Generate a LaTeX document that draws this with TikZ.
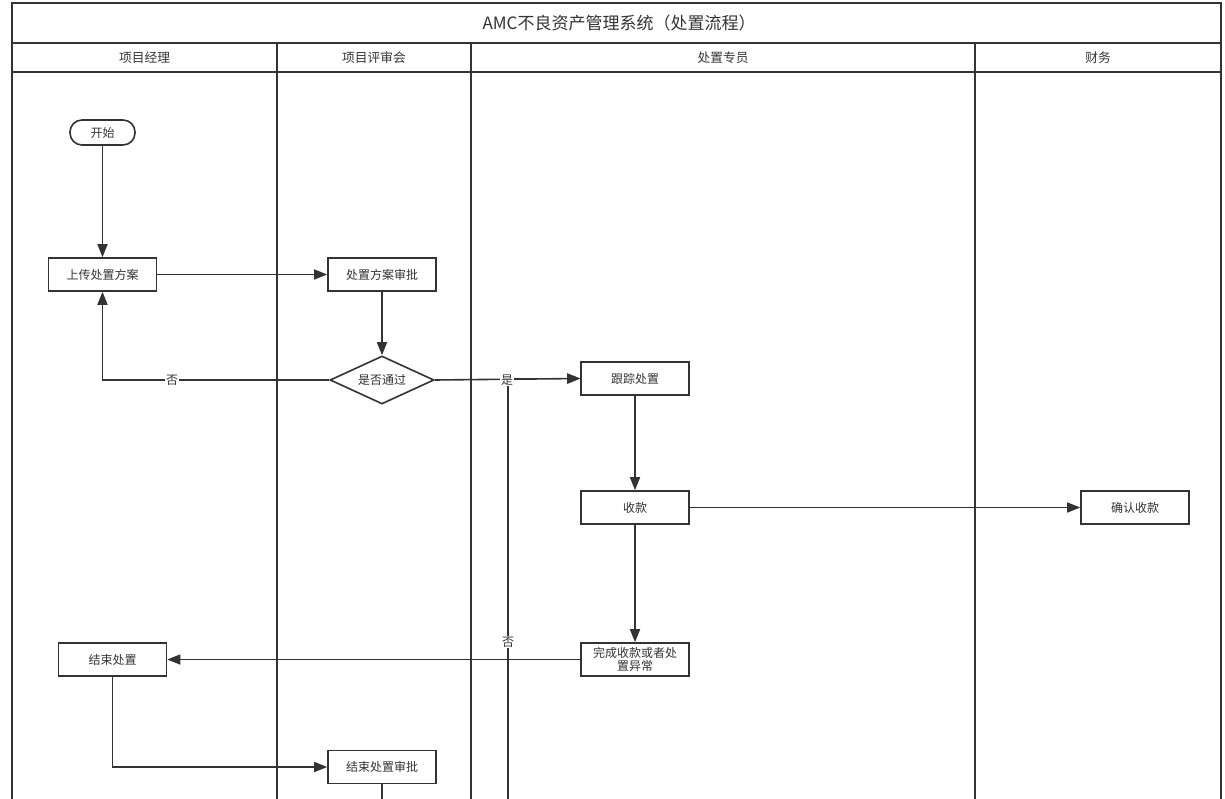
\documentclass[tikz,border=0pt]{standalone}
\usepackage{fontspec}
\setmainfont{Noto Sans CJK SC}
\usetikzlibrary{arrows.meta,shapes.geometric}
\definecolor{ink}{HTML}{333333}
\tikzset{
  pool/.style={draw=ink,line width=1.8pt},
  box/.style={draw=ink,line width=1.6pt,fill=white,minimum width=108pt,minimum height=33pt,inner sep=1pt,font=\fontsize{12}{13.5}\selectfont,text=ink},
  startbox/.style={draw=ink,line width=1.6pt,fill=white,rounded corners=12pt,minimum width=65pt,minimum height=25pt,inner sep=1pt,font=\fontsize{12}{13.5}\selectfont,text=ink},
  decide/.style={draw=ink,line width=1.6pt,fill=white,diamond,aspect=2.2,minimum width=104pt,minimum height=48pt,inner sep=1pt,font=\fontsize{12}{13.5}\selectfont,text=ink},
  flow/.style={draw=ink,line width=1.6pt,-{Triangle[length=13pt,width=10pt]}},
  plain/.style={draw=ink,line width=1.6pt},
  lbl/.style={fill=white,inner sep=1pt,font=\fontsize{12}{13.5}\selectfont,text=ink},
  head/.style={font=\fontsize{12.75}{14}\selectfont,text=ink},
}
\begin{document}
\begin{tikzpicture}[x=1pt,y=-1pt]
\useasboundingbox (0,0) rectangle (1225,799);
% pool
\draw[pool] (12,799) -- (12,3) -- (1221,3) -- (1221,799);
\draw[pool] (12,43) -- (1221,43);
\draw[pool] (12,72) -- (1221,72);
\draw[pool] (277,43) -- (277,799);
\draw[pool] (471,43) -- (471,799);
\draw[pool] (975,43) -- (975,799);
\node[font=\fontsize{17}{19}\selectfont,text=ink] (title) at (619,23) {AMC不良资产管理系统（处置流程）};
\node[head] (h1) at (144.5,58) {项目经理};
\node[head] (h2) at (374,58) {项目评审会};
\node[head] (h3) at (723,58) {处置专员};
\node[head] (h4) at (1098,58) {财务};
% nodes
\node[startbox] (start) at (102.5,132.5) {开始};
\node[box] (upload) at (102.5,274.5) {上传处置方案};
\node[box] (approve) at (382,274.5) {处置方案审批};
\node[decide] (pass) at (382,380) {是否通过};
\node[box] (track) at (635,378.5) {跟踪处置};
\node[box] (collect) at (635,507.5) {收款};
\node[box] (confirm) at (1135,507.5) {确认收款};
\node[box,align=center] (done) at (635,659.5) {完成收款或者处\\置异常};
\node[box] (endd) at (112.5,659.5) {结束处置};
\node[box] (endapp) at (382,767) {结束处置审批};
\coordinate (nobot) at (508,799);
\coordinate (endbot) at (382,799);
% edges
\draw[flow] (start) -- (upload);
\draw[flow] (upload) -- (approve);
\draw[flow] (approve) -- (pass);
\draw[flow] (pass.west) -- (upload.south |- pass.west) -- (upload.south);
\node[lbl] (nolbl1) at (172,380) {否};
\draw[flow] (nobot) -- (nobot |- track.west) -- (track.west);
\draw[flow] (pass.east) -- (track.west);
\node[lbl] (yeslbl) at (507,380) {是};
\node[lbl] (nolbl2) at (508,642) {否};
\draw[flow] (track) -- (collect);
\draw[flow] (collect) -- (confirm);
\draw[flow] (collect) -- (done);
\draw[flow] (done) -- (endd);
\draw[flow] (endd.south) -- (endd.south |- endapp.west) -- (endapp.west);
\draw[plain] (endapp.south) -- (endbot);
\end{tikzpicture}
\end{document}
